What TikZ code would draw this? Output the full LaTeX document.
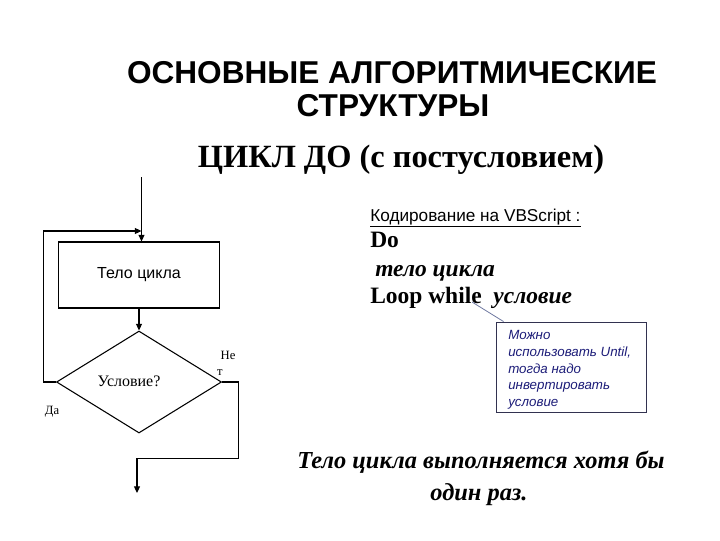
\documentclass[tikz,border=0pt]{standalone}
\usepackage{fontspec}
\setmainfont{Liberation Serif}
\setsansfont{Liberation Sans}
\usetikzlibrary{shapes.geometric,arrows.meta,calc}
\definecolor{navy}{RGB}{28,28,120}
\definecolor{calloutframe}{RGB}{50,50,80}
\definecolor{pointer}{RGB}{110,120,160}
\tikzset{
  flow/.style={line width=0.8pt,black},
  arr/.style={flow,-{Triangle[length=5pt,width=4.5pt]}},
  txt/.style={inner sep=0pt,anchor=base},
  txtw/.style={inner sep=0pt,anchor=base west},
}
\begin{document}
\begin{tikzpicture}[x=0.75pt,y=-0.75pt]
\useasboundingbox (0,0) rectangle (720,540);
% titles
\node[txt,font=\sffamily\bfseries\fontsize{23.7}{25}\selectfont] (t1) at (392,83) {ОСНОВНЫЕ АЛГОРИТМИЧЕСКИЕ};
\node[txt,font=\sffamily\bfseries\fontsize{23.7}{25}\selectfont] (t2) at (393,116) {СТРУКТУРЫ};
\node[txt,font=\rmfamily\bfseries\fontsize{24.3}{26}\selectfont] (t3) at (401,167) {ЦИКЛ ДО (с постусловием)};
% flowchart
\coordinate (top) at (141.5,177);
\node[draw,line width=0.8pt,rectangle,minimum width=120.75pt,minimum height=49.5pt,inner sep=0pt,font=\sffamily\fontsize{12}{14}\selectfont] (body) at (139,275) {Тело цикла};
\node[draw,line width=0.8pt,diamond,minimum width=123.75pt,minimum height=76.5pt,inner sep=0pt] (cond) at (139,382) {};
\node[txt,font=\rmfamily\fontsize{12}{14}\selectfont] (condtxt) at (129,386) {Условие?};
\coordinate (lp) at (43.3,231);
\coordinate (jn) at (141.5,231);
\coordinate (r1) at (238.3,382);
\coordinate (r2) at (238.3,458.3);
\coordinate (r3) at (137,458.3);
\coordinate (out) at (137,493);
\draw[arr] (top) -- (top |- body.north);
\draw[arr] (cond.west) -| (lp) -- (jn);
\draw[arr] (body.south) -- (cond.north);
\draw[arr] (cond.east) -- (r1) -- (r2) -- (r3) -- (out);
\node[txt,font=\rmfamily\fontsize{9.5}{11}\selectfont] (ne) at (228,359) {Не};
\node[txt,font=\rmfamily\fontsize{9.5}{11}\selectfont] (t) at (220,375) {т};
\node[txt,font=\rmfamily\fontsize{9.5}{11}\selectfont] (da) at (52,414) {Да};
% code
\node[txtw,font=\sffamily\fontsize{12.9}{15}\selectfont] (vb) at (370,221) {\underline{Кодирование на VBScript :}};
\node[txtw,font=\rmfamily\bfseries\fontsize{17.6}{20}\selectfont] (do) at (370,247) {Do};
\node[txtw,font=\rmfamily\bfseries\itshape\fontsize{17.6}{20}\selectfont] (tc) at (375,276) {тело цикла};
\node[txtw,font=\rmfamily\bfseries\fontsize{17.6}{20}\selectfont] (lw) at (370,303) {Loop while\ \ \textit{условие}};
% callout
\node[draw=calloutframe,line width=0.7pt,rectangle,minimum width=112.5pt,minimum height=67.5pt,inner sep=0pt] (callout) at (571,367) {};
\coordinate (ptr) at (472,302);
\draw[pointer,line width=0.6pt] ($(callout.north west)+(8,0)$) -- (ptr);
\node[inner sep=0pt,anchor=north west,align=left,text=navy,font=\sffamily\itshape\fontsize{10}{12.4}\selectfont] (ctext) at (508,330.5) {Можно\\использовать Until,\\тогда надо\\инвертировать\\условие};
% bottom
\node[txt,font=\rmfamily\bfseries\itshape\fontsize{18.3}{21}\selectfont] (b1) at (481,468) {Тело цикла выполняется хотя бы};
\node[txt,font=\rmfamily\bfseries\itshape\fontsize{18.3}{21}\selectfont] (b2) at (479,500) {один раз.};
\end{tikzpicture}
\end{document}
